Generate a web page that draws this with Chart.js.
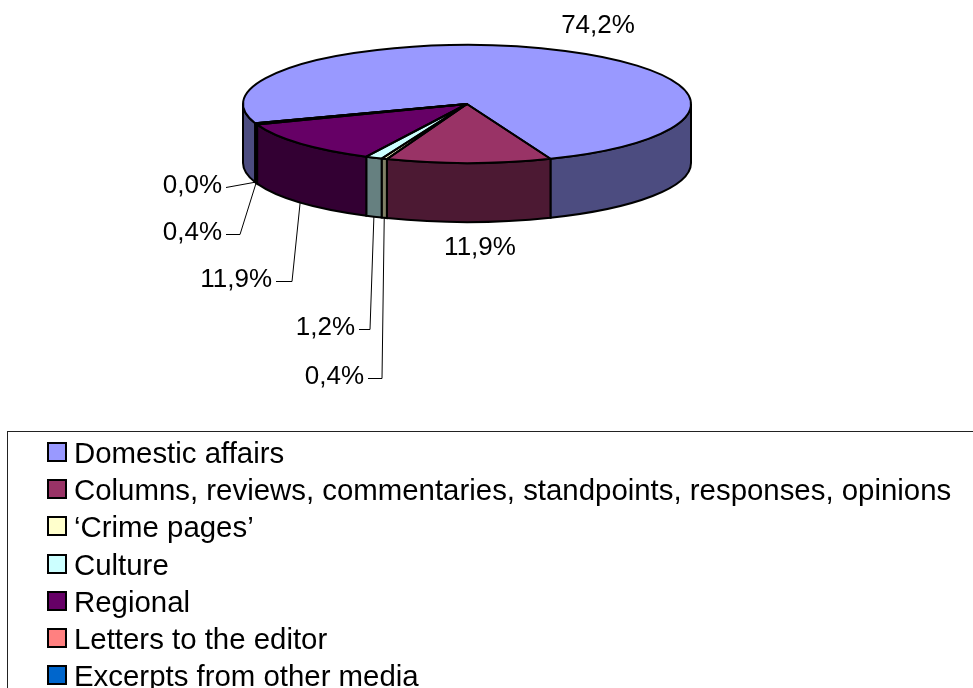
<!DOCTYPE html>
<html>
<head>
<meta charset="utf-8">
<script src="https://cdn.jsdelivr.net/npm/chart.js@4.4.0/dist/chart.umd.min.js"></script>
<style>
	body { margin: 0; background: #fff; overflow: hidden; font-family: "Liberation Sans", Arial, sans-serif; }
	#wrap { position: relative; width: 973px; height: 688px; }
	#legend { position: absolute; left: 7px; top: 431px; width: 1000px; height: 300px; border: 1px solid #222; padding-top: 2px; }
	.item { display: flex; align-items: center; height: 37.3px; font-size: 29.4px; color: #000; white-space: nowrap; }
	.box { flex: none; width: 16px; height: 16px; border: 2px solid #000; margin-left: 39px; margin-right: 7px; margin-top: -2px; }
</style>
</head>
<body>
<div id="wrap">
	<canvas id="chart" width="973" height="688"></canvas>
	<div id="legend"></div>
</div>
<script>
const categories = [
	"Domestic affairs",
	"Columns, reviews, commentaries, standpoints, responses, opinions",
	"\u2018Crime pages\u2019",
	"Culture",
	"Regional",
	"Letters to the editor",
	"Excerpts from other media"
];
const shares = [74.2, 11.9, 0.4, 1.2, 11.9, 0.4, 0.0];
const topColors = ["#9999ff", "#993366", "#ffffcc", "#ccffff", "#660066", "#ff8080", "#0066cc"];
const sideColors = ["#4c4c80", "#4c1933", "#808066", "#668080", "#330033", "#804040", "#003366"];

// where the flattened pie sits on the page
const pie = { cx: 467, cy: 104, ry: 59, depth: 59 };

// label placement (text anchor + elbow of the leader line)
const labelLayout = [
	{ x: 598, y: 26, align: "center" },
	{ x: 480, y: 248, align: "center" },
	{ x: 364, y: 377, align: "right", elbow: 382 },
	{ x: 355, y: 328, align: "right", elbow: 370 },
	{ x: 272, y: 280, align: "right", elbow: 292 },
	{ x: 222, y: 233, align: "right", elbow: 240 },
	{ x: 222, y: 186, align: "right", elbow: 0 }
];

function fmt(v) {
	return v.toFixed(1).replace(".", ",") + "%";
}

const pie3d = {
	id: "pie3d",
	beforeDatasetsDraw(chart) {
		const ctx = chart.ctx;
		const arcs = chart.getDatasetMeta(0).data;
		const rx = arcs[0].outerRadius;

		// front side walls
		ctx.save();
		ctx.lineWidth = 2;
		ctx.strokeStyle = "#000";
		arcs.forEach((arc, i) => {
			const s = arc.startAngle, e = arc.endAngle;
			if (e - s <= 0) return;
			for (let k = -1; k <= 2; k++) {
				const lo = Math.max(s, 2 * Math.PI * k);
				const hi = Math.min(e, 2 * Math.PI * k + Math.PI);
				if (hi <= lo) continue;
				ctx.beginPath();
				ctx.ellipse(pie.cx, pie.cy, rx, pie.ry, 0, lo, hi);
				ctx.ellipse(pie.cx, pie.cy + pie.depth, rx, pie.ry, 0, hi, lo, true);
				ctx.closePath();
				ctx.fillStyle = sideColors[i];
				ctx.fill();
				ctx.stroke();
			}
		});
		ctx.restore();

		// squash the library's own pie into the top face
		ctx.save();
		ctx.translate(pie.cx, pie.cy);
		ctx.scale(1, pie.ry / rx);
		ctx.translate(-arcs[0].x, -arcs[0].y);
	},
	afterDatasetsDraw(chart) {
		const ctx = chart.ctx;
		ctx.restore();
		const arcs = chart.getDatasetMeta(0).data;
		const rx = arcs[0].outerRadius;

		ctx.save();
		ctx.lineWidth = 2;
		ctx.strokeStyle = "#000";
		ctx.lineJoin = "round";
		arcs.forEach((arc) => {
			ctx.beginPath();
			ctx.moveTo(pie.cx, pie.cy);
			ctx.ellipse(pie.cx, pie.cy, rx, pie.ry, 0, arc.startAngle, arc.endAngle);
			ctx.closePath();
			ctx.stroke();
		});

		ctx.font = '26px "Liberation Sans", Arial, sans-serif';
		ctx.fillStyle = "#000";
		ctx.textBaseline = "middle";
		ctx.lineWidth = 1;
		arcs.forEach((arc, i) => {
			const l = labelLayout[i];
			ctx.textAlign = l.align;
			ctx.fillText(fmt(shares[i]), l.x, l.y);
			if (l.elbow === undefined) return;
			const m = (arc.startAngle + arc.endAngle) / 2;
			const ax = pie.cx + rx * Math.cos(m);
			const ay = pie.cy + pie.depth + pie.ry * Math.sin(m);
			ctx.beginPath();
			ctx.moveTo(l.x + 4, l.y + 1.5);
			if (l.elbow) ctx.lineTo(l.elbow, l.y + 1.5);
			ctx.lineTo(ax, ay);
			ctx.stroke();
		});
		ctx.restore();
	}
};

const ctx = document.getElementById("chart").getContext("2d");
new Chart(ctx, {
	type: "pie",
	data: {
		labels: categories,
		datasets: [{
			data: shares,
			backgroundColor: topColors,
			borderWidth: 0,
			hoverOffset: 0,
			clip: false
		}]
	},
	options: {
		responsive: false,
		animation: false,
		events: [],
		rotation: 251,
		layout: { padding: { left: 243, right: 282, top: 120, bottom: 120 } },
		plugins: {
			legend: { display: false },
			tooltip: { enabled: false }
		}
	},
	plugins: [pie3d]
});

// legend, one entry per row
const legend = document.getElementById("legend");
categories.forEach((name, i) => {
	const row = document.createElement("div");
	row.className = "item";
	const box = document.createElement("span");
	box.className = "box";
	box.style.background = topColors[i];
	row.appendChild(box);
	row.appendChild(document.createTextNode(name));
	legend.appendChild(row);
});
</script>
</body>
</html>
